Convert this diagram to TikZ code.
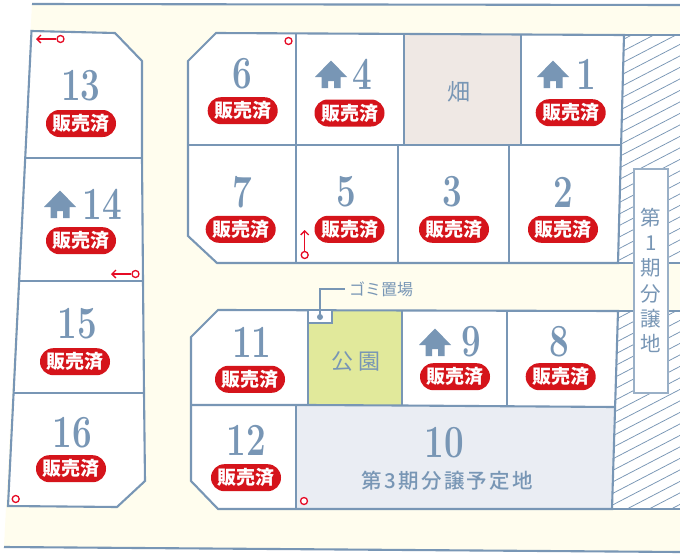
\documentclass[tikz,border=0pt]{standalone}
\usepackage{fontspec}
\usepackage{graphicx}
\newfontfamily\cjk{Noto Sans CJK JP}
\newfontfamily\cjkm{Noto Sans CJK JP Medium}
\definecolor{ln}{HTML}{7896B5}
\definecolor{cream}{HTML}{FFFDEE}
\definecolor{redb}{HTML}{D5141B}
\definecolor{redm}{HTML}{E60B25}
\definecolor{beige}{HTML}{EFE8E4}
\definecolor{park}{HTML}{E1E99B}
\definecolor{grayb}{HTML}{EAEDF3}
\tikzset{
  lot/.style={draw=ln,line width=2.1pt,line join=miter},
  badge/.style={fill=redb,rounded corners=13.4pt,minimum width=70pt,minimum height=27pt,inner sep=0pt,text=white,font=\cjk\bfseries\fontsize{19}{19}\selectfont},
  num/.style={text=ln,inner sep=0pt,font=\bfseries\fontsize{46}{46}\selectfont},
  lbl/.style={text=ln,inner sep=0pt,font=\cjk\fontsize{20.5}{20.5}\selectfont},
  marker/.style={draw=redm,line width=1.3pt,fill=white,circle,minimum size=7pt,inner sep=0pt},
  marrow/.style={draw=redm,line width=1.3pt,-{Straight Barb[length=4pt,width=8pt]}},
  hatchline/.style={draw=ln,line width=.75pt},
}
\usetikzlibrary{arrows.meta}
\newcommand{\housepic}[2]{%
  \fill[ln,shift={(#1,#2)}] (0,-13.5) -- (16,3) -- (9.5,3) -- (9.5,14) -- (3,14) -- (3,7) -- (-3,7) -- (-3,14) -- (-9.5,14) -- (-9.5,3) -- (-16,3) -- cycle;}
\newcommand{\numlab}[4]{\node[num] (n#1) at (#2,#3) {\scalebox{.76}[1]{#4}};}
\newcommand{\soldbadge}[3]{\node[badge] (b#1) at (#2,#3) {販売済};}
\begin{document}
\begin{tikzpicture}[x=1pt,y=-1pt]
\useasboundingbox (0,0) rectangle (680,554);
\fill[white] (0,0) rectangle (680,554);
% ground
\fill[cream] (32,4) -- (680,5) -- (680,552) -- (4,547) -- cycle;
\draw[ln,line width=2.1pt] (32,4) -- (680,5);
\draw[ln,line width=2.1pt] (4,547) -- (680,552);
% hatched strips
\begin{scope}
\fill[white] (624,35) -- (680,35) -- (680,263) -- (618,263) -- cycle;
\fill[white] (618,311) -- (680,311) -- (680,509) -- (612,509) -- cycle;
\clip (624,35) -- (680,35) -- (680,263) -- (618,263) -- cycle (618,311) -- (680,311) -- (680,509) -- (612,509) -- cycle;
\foreach \k in {0,...,70}{\draw[hatchline] (600,40+\k*11.5) -- (700,\k*11.5-12);}
\end{scope}
\draw[lot] (624,35) -- (680,35) (618,263) -- (680,263) (618,311) -- (680,311) (612,509) -- (680,509);
% left column lots
\fill[white] (31.5,31) -- (115,33) -- (142,61) -- (142,158) -- (143,281) -- (144,393) -- (145,481) -- (117,507) -- (8,506) -- cycle;
\draw[lot] (31.5,31) -- (115,33) -- (142,61) -- (142,158) -- (143,281) -- (144,393) -- (145,481) -- (117,507) -- (8,506) -- cycle;
\draw[lot] (26,158) -- (142,158) (20,281) -- (143,281) (14,393) -- (144,393);
% upper block
\fill[white] (216,33) -- (624,35) -- (618,263) -- (217,263) -- (188,236) -- (188,61) -- cycle;
\fill[beige] (404,35) rectangle (521,145);
\draw[lot] (216,33) -- (624,35) -- (618,263) -- (217,263) -- (188,236) -- (188,61) -- cycle;
\draw[lot] (188,145) -- (621,145);
\draw[lot] (296,33) -- (296,263) (404,35) -- (404,145) (521,35) -- (521,145) (398,145) -- (398,263) (509,145) -- (509,263);
% lower block
\fill[white] (218,310) -- (618,311) -- (612,509) -- (218,509) -- (191,481) -- (191,337) -- cycle;
\fill[park] (308,310) -- (402,311) -- (402,405) -- (308,405) -- cycle;
\fill[grayb] (296,405) -- (614,407) -- (612,509) -- (296,509) -- cycle;
\draw[lot] (218,310) -- (618,311) -- (612,509) -- (218,509) -- (191,481) -- (191,337) -- cycle;
\draw[lot] (191,405) -- (308,405) -- (402,405.5) -- (614,407);
\draw[lot] (308,310) -- (308,405) (402,311) -- (402,405) (507,311) -- (507,406) (296,405) -- (296,509);
% garbage place
\node[draw=ln,line width=2pt,fill=white,minimum width=23.5pt,minimum height=13pt,inner sep=0pt] (gomi) at (320,316.5) {};
\fill[ln] (320,317) circle (3pt);
\node[text=ln,inner sep=0pt,anchor=west,font=\cjk\fontsize{16}{16}\selectfont] (gomit) at (349,289) {ゴミ置場};
\coordinate (gomic) at (345,289);
\draw[ln,line width=1.3pt] (320,317) -- (320,289) -- (gomic);
% first phase box
\node[draw=ln!75,line width=1.5pt,fill=white,minimum width=34pt,minimum height=224pt,inner sep=0pt] (phase) at (651,281) {};
\node[lbl] (p1) at (651,218) {第};
\node[lbl] (p2) at (651,243) {1};
\node[lbl] (p3) at (651,268) {期};
\node[lbl] (p4) at (651,294) {分};
\node[lbl] (p5) at (651,319) {譲};
\node[lbl] (p6) at (651,343) {地};
% fields
\node[lbl,font=\cjk\fontsize{23}{23}\selectfont] (field) at (459,92) {畑};
\node[lbl,font=\cjk\fontsize{22}{22}\selectfont] (parka) at (342,362) {公};
\node[lbl,font=\cjk\fontsize{22}{22}\selectfont] (parkb) at (369,362) {園};
% houses
\housepic{60}{204}
\housepic{331}{74}
\housepic{553}{74}
\housepic{435}{342}
% numbers
\numlab{13}{80.7}{85.7}{13}
\numlab{14}{102}{204}{14}
\numlab{15}{77}{323.3}{15}
\numlab{16}{72}{432.7}{16}
\numlab{6}{242}{74}{6}
\numlab{7}{242}{192}{7}
\numlab{4}{362}{74}{4}
\numlab{5}{346}{192}{5}
\numlab{1}{586.7}{74}{1}
\numlab{3}{452.7}{192}{3}
\numlab{2}{563}{192}{2}
\numlab{11}{251.7}{342}{11}
\numlab{12}{246}{440.7}{12}
\numlab{9}{471.7}{342}{9}
\numlab{8}{559.7}{342}{8}
\numlab{10}{444}{443}{10}
\node[lbl,font=\cjkm\addfontfeatures{LetterSpace=11}\fontsize{20.5}{20.5}\selectfont] (lot10) at (447.3,481) {第3期分譲予定地};
% badges
\soldbadge{13}{81}{123.5}
\soldbadge{14}{81}{240.7}
\soldbadge{15}{75}{361.7}
\soldbadge{16}{71}{468.7}
\soldbadge{6}{242.7}{110.7}
\soldbadge{7}{240.7}{229.3}
\soldbadge{4}{349.5}{113}
\soldbadge{5}{349.5}{229.3}
\soldbadge{1}{570.7}{112.7}
\soldbadge{3}{454}{229.3}
\soldbadge{2}{563}{229.3}
\soldbadge{11}{250}{379.3}
\soldbadge{12}{246}{477.7}
\soldbadge{9}{455}{376.7}
\soldbadge{8}{560.7}{376.7}
% boundary markers
\node[marker] (m13) at (60.5,39) {};
\coordinate (a13) at (36,39);
\draw[marrow] (m13) -- (a13);
\node[marker] (m14) at (135.5,274) {};
\coordinate (a14) at (111,274);
\draw[marrow] (m14) -- (a14);
\node[marker] (m5) at (304.7,255) {};
\coordinate (a5) at (304.7,230);
\draw[marrow] (m5) -- (a5);
\node[marker] (m6) at (288.5,41) {};
\node[marker] (m16) at (15.7,499) {};
\node[marker] (m12) at (304,501) {};
\end{tikzpicture}
\end{document}
